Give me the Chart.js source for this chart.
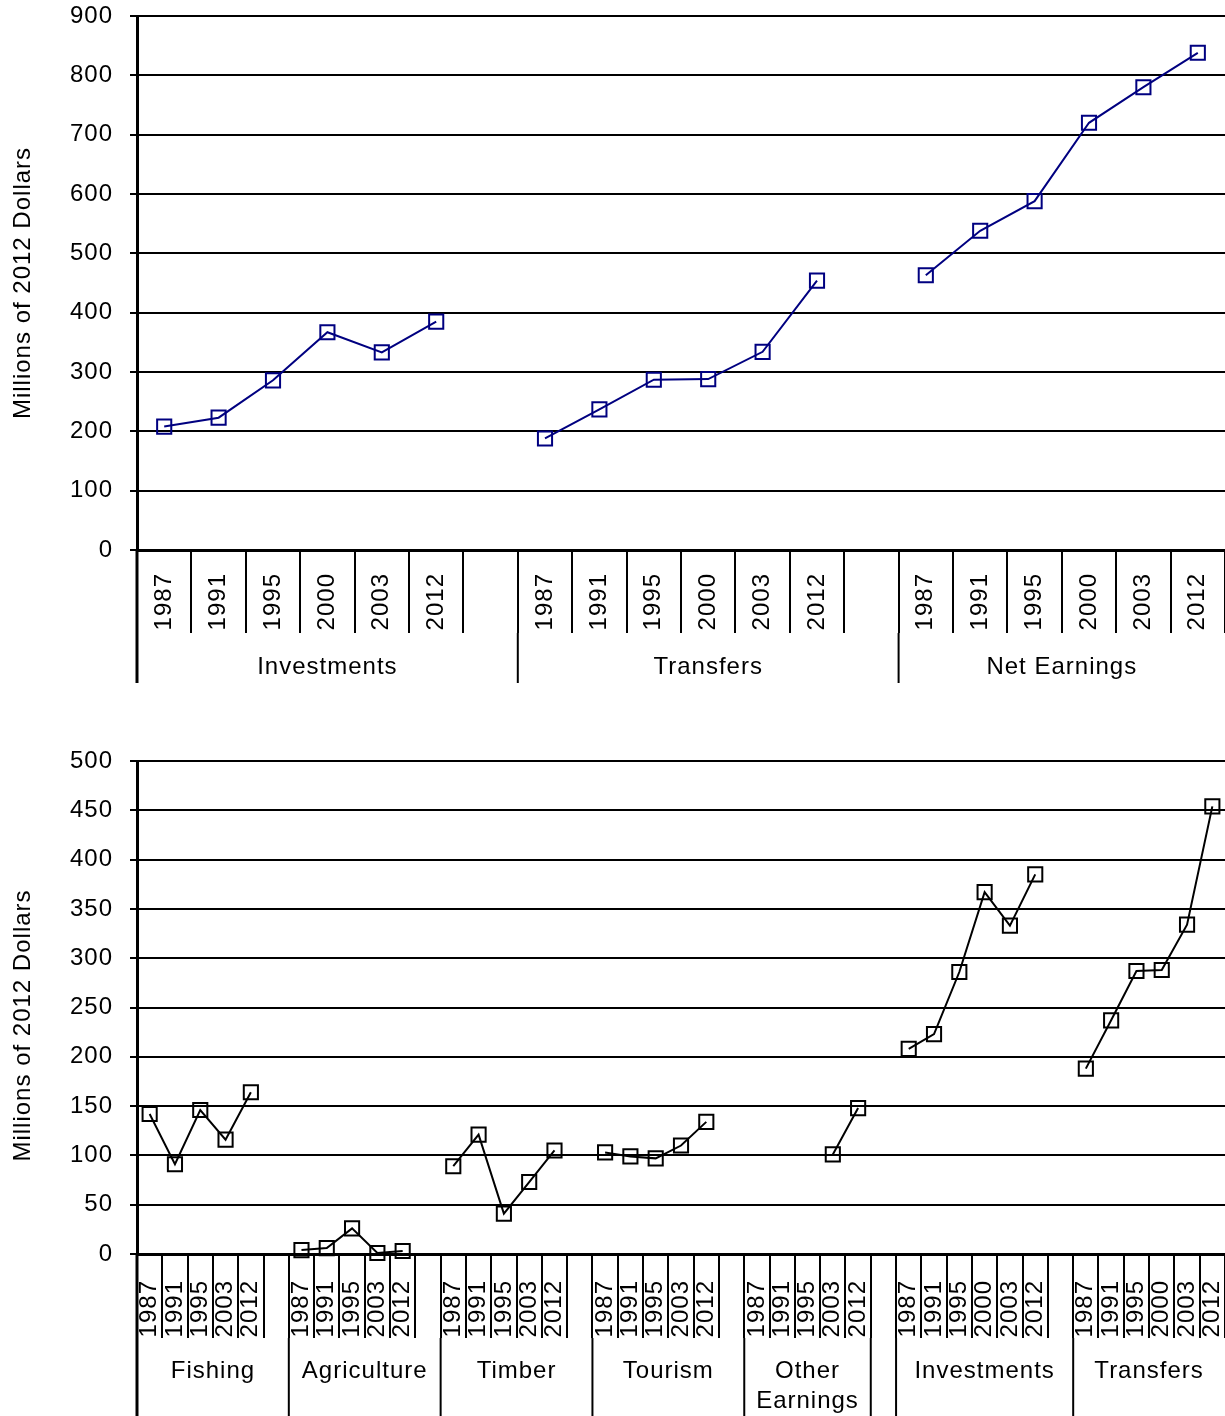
<!DOCTYPE html>
<html><head><meta charset="utf-8">
<script src="https://cdn.jsdelivr.net/npm/chart.js@4/dist/chart.umd.min.js"></script>
<style>
html,body{margin:0;padding:0;background:#fff;width:1225px;height:1416px;overflow:hidden}
.wrap{position:absolute;left:0;width:1225px}
#w1{top:0;height:700px}
#w2{top:700px;height:716px}
</style></head><body>
<div class="wrap" id="w1"><canvas id="c1"></canvas></div>
<div class="wrap" id="w2"><canvas id="c2"></canvas></div>
<script>
// ---------- data: top chart ----------
const topGroups = ['Investments', 'Transfers', 'Net Earnings'];
const topYears = ['1987', '1991', '1995', '2000', '2003', '2012'];
const topGapAfter = [true, true, false];
const investments = [208, 223, 286, 367, 333, 385];
const transfers = [188, 237, 287, 288, 334, 454];
const netEarnings = [463, 538, 588, 720, 780, 838];
const topYTicks = [0, 100, 200, 300, 400, 500, 600, 700, 800, 900];

// ---------- data: bottom chart ----------
const bottomGroups = ['Fishing', 'Agriculture', 'Timber', 'Tourism', 'Other Earnings', '', 'Investments', 'Transfers'];
const years5 = ['1987', '1991', '1995', '2003', '2012'];
const years6 = ['1987', '1991', '1995', '2000', '2003', '2012'];
const blankYears = [''];
const bottomGapAfter = [true, true, true, true, false, false, true, false];
const fishing = [142, 91, 146, 116, 164];
const agriculture = [4, 6, 26, 1, 3];
const timber = [89, 121, 41, 73, 105];
const tourism = [103, 99, 97, 110, 134];
const otherEarnings = [null, null, null, 101, 148];
const blankValues = [null];
const bottomYTicks = [0, 50, 100, 150, 200, 250, 300, 350, 400, 450, 500];

const yTitle = 'Millions of 2012 Dollars';
const FONT = "'Liberation Sans', Arial, sans-serif";
const FS = 24;
const SPACING = '1px';

function build(groups, yearsList, valuesList, gaps) {
  const labels = [], data = [], spans = [];
  groups.forEach((g, i) => {
    const start = labels.length;
    yearsList[i].forEach((yr, j) => { labels.push(yr); data.push(valuesList[i][j]); });
    if (gaps[i]) { labels.push(''); data.push(null); }
    spans.push({ name: g, start, end: labels.length - 1 });
  });
  return { labels, data, spans };
}

const topBuilt = build(topGroups, [topYears, topYears, topYears],
  [investments, transfers, netEarnings], topGapAfter);
const bottomBuilt = build(bottomGroups,
  [years5, years5, years5, years5, years5, blankYears, years6, years6],
  [fishing, agriculture, timber, tourism, otherEarnings, blankValues, investments, transfers],
  bottomGapAfter);

const spacingPlugin = {
  id: 'spacing',
  beforeUpdate(chart) { chart.ctx.letterSpacing = SPACING; },
  beforeDraw(chart) { chart.ctx.letterSpacing = SPACING; }
};

const groupPlugin = {
  id: 'groupAxis',
  afterDraw(chart, args, opts) {
    const x = chart.scales.x, ctx = chart.ctx;
    const step = x.getPixelForValue(1) - x.getPixelForValue(0);
    const top = x.top;
    ctx.save();
    ctx.letterSpacing = SPACING;
    ctx.strokeStyle = '#000';
    ctx.fillStyle = '#000';
    ctx.font = FS + 'px ' + FONT;
    ctx.textAlign = 'center';
    ctx.textBaseline = 'middle';
    opts.spans.forEach((s, i) => {
      const l = x.getPixelForValue(s.start) - step / 2;
      const r = x.getPixelForValue(s.end) + step / 2;
      ctx.lineWidth = i === 0 ? 3 : 2;
      ctx.beginPath();
      ctx.moveTo(l, i === 0 ? top : top + opts.tickLen);
      ctx.lineTo(l, top + opts.lineLen);
      ctx.stroke();
      if (!s.name) return;
      let lines = [s.name];
      if (ctx.measureText(s.name).width > (r - l) - 8) lines = s.name.split(' ');
      lines.forEach((ln, k) => {
        ctx.fillText(ln, (l + r) / 2, top + opts.labelOffset + k * 30);
      });
    });
    // y axis title
    const ca = chart.chartArea;
    ctx.translate(opts.titleX, (ca.top + ca.bottom) / 2 + opts.titleShift);
    ctx.rotate(-Math.PI / 2);
    ctx.fillText(yTitle, 0, 0);
    ctx.restore();
  }
};

function makeChart(id, built, yTicks, color, padTop, xHeight, tickLen, tickPad, lineLen, titleShift) {
  const step = yTicks[1] - yTicks[0];
  return new Chart(document.getElementById(id), {
    type: 'line',
    data: {
      labels: built.labels,
      datasets: [{
        data: built.data,
        borderColor: color,
        borderWidth: 2,
        tension: 0,
        spanGaps: false,
        pointStyle: 'rect',
        pointRadius: 10,
        pointBorderWidth: 2,
        pointBorderColor: color,
        pointBackgroundColor: 'rgba(0,0,0,0)',
        clip: false
      }]
    },
    options: {
      responsive: true,
      maintainAspectRatio: false,
      animation: false,
      events: [],
      layout: { autoPadding: false, padding: { top: padTop, right: 0, left: 0, bottom: 0 } },
      plugins: {
        legend: { display: false },
        tooltip: { enabled: false },
        groupAxis: { spans: built.spans, tickLen: tickLen, labelOffset: 117, lineLen: lineLen,
                     titleX: 23, titleShift: titleShift }
      },
      scales: {
        x: {
          type: 'category',
          offset: true,
          grid: { offset: true, drawOnChartArea: false, drawTicks: true, tickLength: tickLen, color: '#000', lineWidth: 2 },
          border: { display: true, color: '#000', width: 3 },
          ticks: { autoSkip: false, minRotation: 90, maxRotation: 90, padding: tickPad, color: '#000',
                   font: { family: FONT, size: FS } },
          afterFit(s) { s.height = xHeight; s.paddingLeft = 0; s.paddingRight = 0; }
        },
        y: {
          min: yTicks[0], max: yTicks[yTicks.length - 1],
          ticks: { stepSize: step, padding: 17, color: '#000', font: { family: FONT, size: FS } },
          grid: { color: '#000', lineWidth: 2, tickLength: 7 },
          border: { display: true, color: '#000', width: 3 },
          title: { display: false },
          afterFit(s) { s.width = 137; s.paddingTop = 0; s.paddingBottom = 0; }
        }
      }
    },
    plugins: [spacingPlugin, groupPlugin]
  });
}

makeChart('c1', topBuilt, topYTicks, '#000080', 16, 150, 83, -60, 133, 0);
makeChart('c2', bottomBuilt, bottomYTicks, '#000000', 61, 162, 84, -58, 162, 18);
</script>
</body></html>
